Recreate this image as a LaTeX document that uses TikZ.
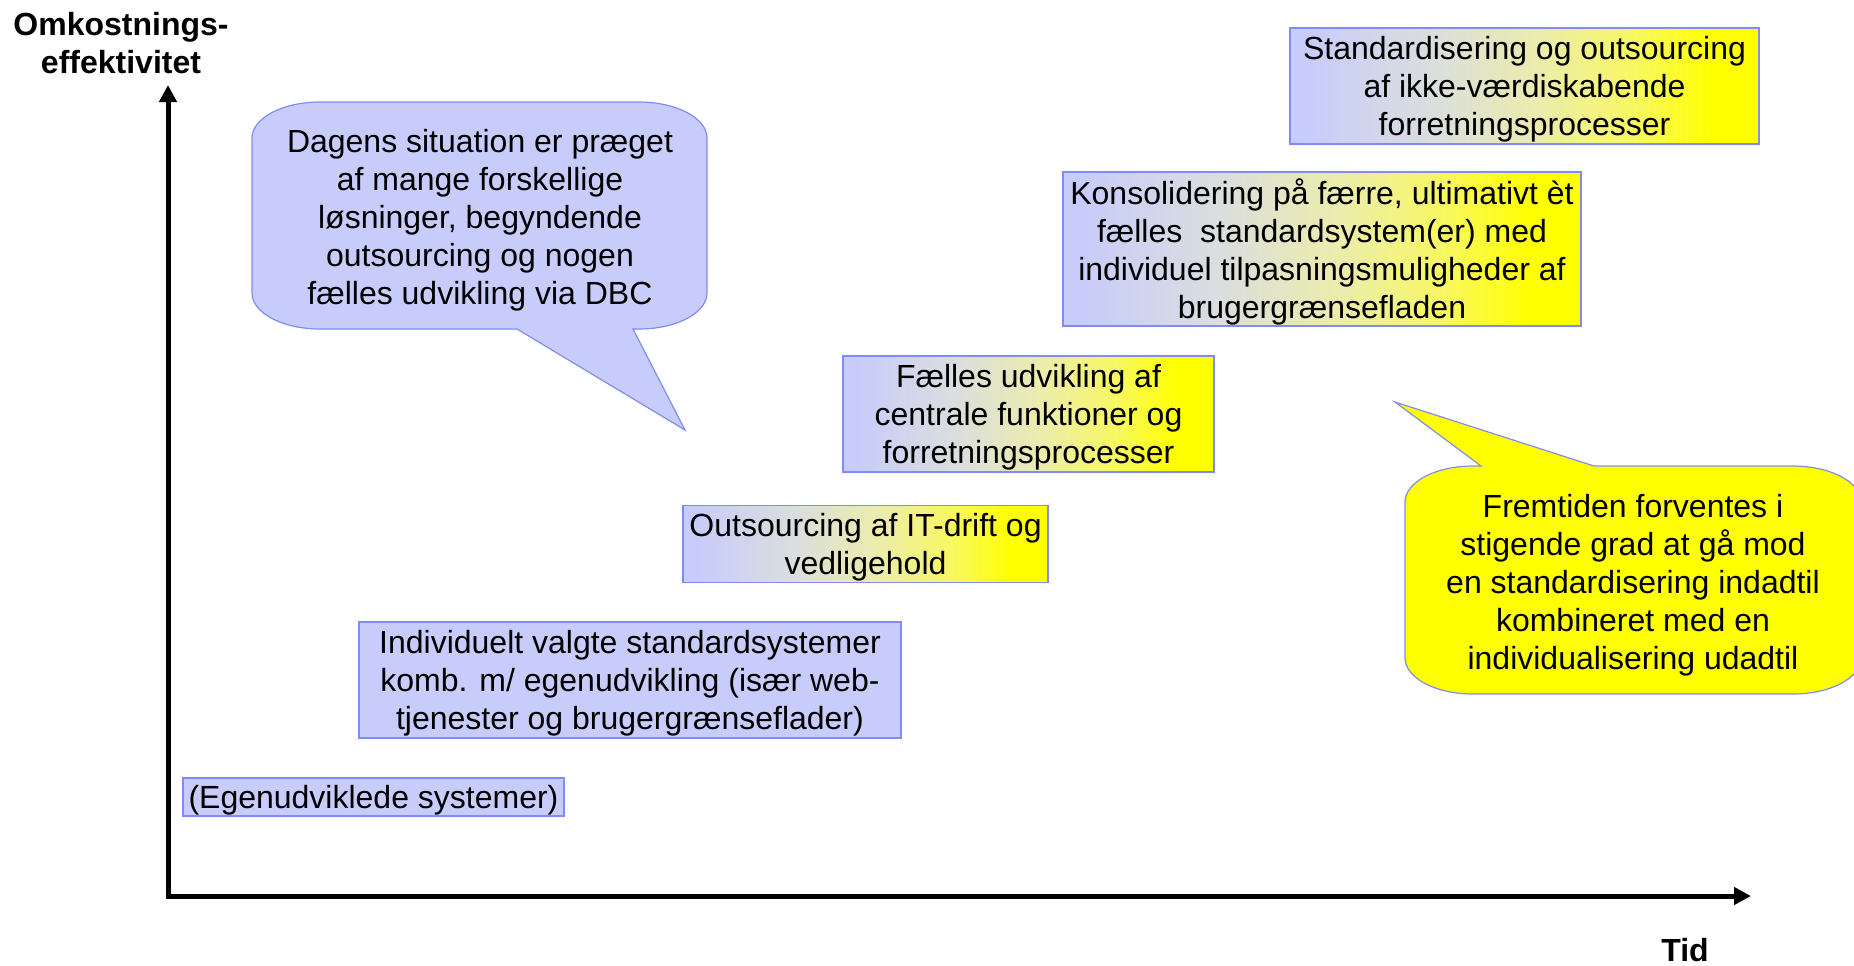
\documentclass[tikz,border=0pt]{standalone}
\usepackage{fontspec}
\setmainfont{Liberation Sans}
\usetikzlibrary{arrows.meta}
\usetikzlibrary{positioning}
\definecolor{mlight}{RGB}{200, 204, 250}
\definecolor{mline}{RGB}{128, 140, 240}
\definecolor{myellow}{RGB}{255, 255, 0}
\definecolor{mgrey}{RGB}{218, 222, 222}
\definecolor{mpale}{RGB}{236, 237, 170}
\definecolor{mlemon}{RGB}{248, 248, 95}
\pgfdeclarehorizontalshading{stagefade}{100bp}{color(0bp)=(mlight); color(27bp)=(mlight);
  color(40bp)=(mgrey); color(52bp)=(mpale); color(62bp)=(mlemon); color(70bp)=(myellow); color(100bp)=(myellow)}

\begin{document}
\begin{tikzpicture}[x=0.5pt, y=0.5pt,
      every node/.style={font=\fontsize{16pt}{19pt}\selectfont, align=center, inner sep=0pt},
      stage/.style={draw=mline, fill=mlight, line width=0.6pt, text depth=0pt},
      fadestage/.style={stage, shading=stagefade},
      bubble/.style={draw=mline, line width=0.6pt},
      axis/.style={line width=2.5pt, line join=miter,
        {Triangle[length=8.5pt, width=8.5pt]}-{Triangle[length=8.5pt, width=8.5pt]}}]
      \useasboundingbox (0, 0) rectangle (1854, -965);

      % akser
      \coordinate (origo) at (168, -896);
      \coordinate (ytop) at (168, -85);
      \coordinate (xend) at (1751, -896);
      \draw [axis] (ytop) -- (origo) -- (xend);
      \node [font=\fontsize{16pt}{19pt}\selectfont\bfseries] (ylabel) at (121, -43) {Omkostnings-\\effektivitet};
      \node [font=\fontsize{16pt}{19pt}\selectfont\bfseries] (xlabel) at (1685, -950) {Tid};

      % trin
      \node [stage, minimum width=190.5pt, minimum height=19pt] (egen) at (373.5, -797) {(Egenudviklede systemer)};
      \node [stage, minimum width=271pt, minimum height=58pt] (indiv) at (630, -680)
        {Individuelt valgte standardsystemer\\komb. m/ egenudvikling (især web-\\tjenester og brugergrænseflader)};
      \node [fadestage, minimum width=182.5pt, minimum height=38.5pt] (drift) at (865.5, -544)
        {Outsourcing af IT-drift og\\vedligehold};
      \node [fadestage, minimum width=185.5pt, minimum height=58pt] (faelles) at (1028.5, -414)
        {Fælles udvikling af\\centrale funktioner og\\forretningsprocesser};
      \node [fadestage, minimum width=259pt, minimum height=77pt] (konsol) at (1322, -249)
        {Konsolidering på færre, ultimativt èt\\fælles~ standardsystem(er) med\\individuel tilpasningsmuligheder af\\brugergrænsefladen};
      \node [fadestage, minimum width=234.5pt, minimum height=58pt] (standard) at (1524.5, -86)
        {Standardisering og outsourcing\\af ikke-værdiskabende\\forretningsprocesser};

      % talebobler
      \coordinate (dagenstip) at (685, -430);
      \draw [bubble, fill=mlight] (320, -102) -- (639, -102)
        arc [start angle=90, end angle=0, x radius=34pt, y radius=18pt] -- (707, -293)
        arc [start angle=0, end angle=-90, x radius=34pt, y radius=18pt] -- (633, -329)
        -- (dagenstip) -- (517, -329) -- (320, -329)
        arc [start angle=-90, end angle=-180, x radius=34pt, y radius=18pt] -- (252, -138)
        arc [start angle=180, end angle=90, x radius=34pt, y radius=18pt] -- cycle;
      \node (dagens) at (480, -220)
        {Dagens situation er præget\\af mange forskellige\\løsninger, begyndende\\outsourcing og nogen\\fælles udvikling via DBC};

      \coordinate (fremtidtip) at (1395, -402);
      \draw [bubble, fill=myellow] (1473, -466) -- (1481, -466) -- (fremtidtip) -- (1594, -466)
        -- (1793, -466) arc [start angle=90, end angle=0, x radius=34pt, y radius=18pt] -- (1861, -658)
        arc [start angle=0, end angle=-90, x radius=34pt, y radius=18pt] -- (1473, -694)
        arc [start angle=-90, end angle=-180, x radius=34pt, y radius=18pt] -- (1405, -502)
        arc [start angle=180, end angle=90, x radius=34pt, y radius=18pt] -- cycle;
      \node (fremtid) at (1633, -585)
        {Fremtiden forventes i\\stigende grad at gå mod\\en standardisering indadtil\\kombineret med en\\individualisering udadtil};
    \end{tikzpicture}
\end{document}
